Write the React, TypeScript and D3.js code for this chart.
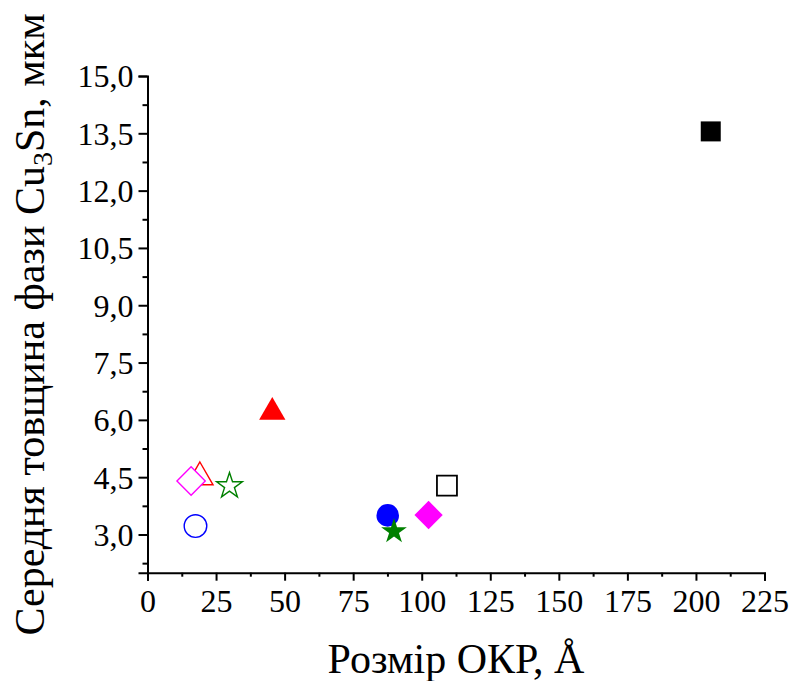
import * as d3 from "d3";
import { useEffect, useRef } from "react";

// crystallite size (Å) vs mean Cu3Sn layer thickness (µm)
const crystalliteSize = [205.4, 109.2, 45.5, 19.1, 87.6, 17.5, 89.9, 29.9, 102.5, 15.9];
const layerThickness = [13.55, 4.28, 6.2, 4.5, 3.5, 3.22, 3.08, 4.27, 3.51, 4.4];
const markerShapes = ["square", "square", "triangle", "triangle", "circle", "circle", "star", "star", "diamond", "diamond"];
const markerColors = ["#000000", "#000000", "#ff0000", "#ff0000", "#0000ff", "#0000ff", "#008000", "#008000", "#ff00ff", "#ff00ff"];
const markerFilled = [true, false, true, false, true, false, true, false, true, false];

const xTicks = [0, 25, 50, 75, 100, 125, 150, 175, 200, 225];
const yTicks = [3, 4.5, 6, 7.5, 9, 10.5, 12, 13.5, 15];

const W = 790;
const H = 681;
const FONT = "Liberation Serif";

const App = () => {
  const ref = useRef<SVGSVGElement>(null);

  const x = d3.scaleLinear().domain([0, 225]).range([147.5, 764.5]);
  const y = d3.scaleLinear().domain([2, 15]).range([572.7, 76]);

  useEffect(() => {
    const svg = d3.select(ref.current);
    svg.selectAll("g.axis").remove();

    // minor ticks halfway between the majors
    const xMinor = d3.range(12.5, 225, 25);
    const yMinor = d3.range(2.25, 15, 1.5);

    const xAxis = svg
      .append("g")
      .attr("class", "axis")
      .attr("transform", `translate(0,${y(2)})`);
    xAxis
      .append("g")
      .call(d3.axisBottom(x).tickValues(xMinor).tickSize(4).tickFormat(() => ""))
      .call((g) => g.select(".domain").remove());
    xAxis
      .append("g")
      .call(d3.axisBottom(x).tickValues(xTicks).tickSizeOuter(0).tickSize(8).tickPadding(10).tickFormat(d3.format("d")));

    const yAxis = svg
      .append("g")
      .attr("class", "axis")
      .attr("transform", `translate(${x(0)},0)`);
    yAxis
      .append("g")
      .call(d3.axisLeft(y).tickValues(yMinor).tickSize(5).tickFormat(() => ""))
      .call((g) => g.select(".domain").remove());
    yAxis
      .append("g")
      .call(
        d3
          .axisLeft(y)
          .tickValues(yTicks)
          .tickSizeOuter(0)
          .tickSize(9)
          .tickPadding(5)
          .tickFormat((d) => d3.format(".1f")(d as number).replace(".", ","))
      );

    svg.selectAll("g.axis path.domain").attr("stroke", "#000").attr("stroke-width", 2);
    svg.selectAll("g.axis line").attr("stroke", "#000").attr("stroke-width", 2);
    svg.selectAll("g.axis g").attr("font-family", FONT).attr("font-size", 32);
    svg
      .selectAll("g.axis text")
      .attr("font-family", FONT)
      .attr("font-size", 32)
      .attr("fill", "#000");
    xAxis.selectAll("text").attr("dy", "0.68em");
    yAxis.selectAll("text").attr("dy", "0.34em");

    // markers
    svg.selectAll("g.marks").remove();
    const marks = svg.append("g").attr("class", "marks").raise();
    crystalliteSize.forEach((cs, i) => {
      const shape = markerShapes[i];
      let path = "";
      let rotate = 0;
      if (shape === "square") path = d3.symbol(d3.symbolSquare, 400)()!;
      if (shape === "circle") path = d3.symbol(d3.symbolCircle, 400)()!;
      if (shape === "triangle") path = d3.symbol(d3.symbolTriangle, 300)()!;
      if (shape === "star") path = d3.symbol(d3.symbolStar, 205)()!;
      if (shape === "diamond") {
        path = d3.symbol(d3.symbolSquare, 400)()!;
        rotate = 45;
      }
      const filled = markerFilled[i];
      marks
        .append("path")
        .attr("d", path)
        .attr("transform", `translate(${x(cs)},${y(layerThickness[i])}) rotate(${rotate})`)
        .attr("fill", filled ? markerColors[i] : "#fff")
        .attr("stroke", filled ? "none" : markerColors[i])
        .attr("stroke-width", shape === "square" ? 1.8 : 1.4)
        .attr("stroke-linejoin", "miter");
    });
  }, []);

  return (
    <svg
      ref={ref}
      width={W}
      height={H}
      style={{ position: "absolute", left: 0, top: 0, background: "#fff" }}
    >
      <text
        x={(x(0) + x(225)) / 2}
        y={673}
        textAnchor="middle"
        fontFamily={FONT}
        fontSize={42}
        fill="#000"
      >
        Розмір ОКР, Å
      </text>
      <text
        transform={`translate(44,${(y(2) + y(15)) / 2}) rotate(-90)`}
        textAnchor="middle"
        fontFamily={FONT}
        fontSize={42}
        fill="#000"
      >
        Середня товщина фази Cu
        <tspan fontSize={28} dy={8}>
          3
        </tspan>
        <tspan dy={-8}>Sn, мкм</tspan>
      </text>
    </svg>
  );
};

export default App;
